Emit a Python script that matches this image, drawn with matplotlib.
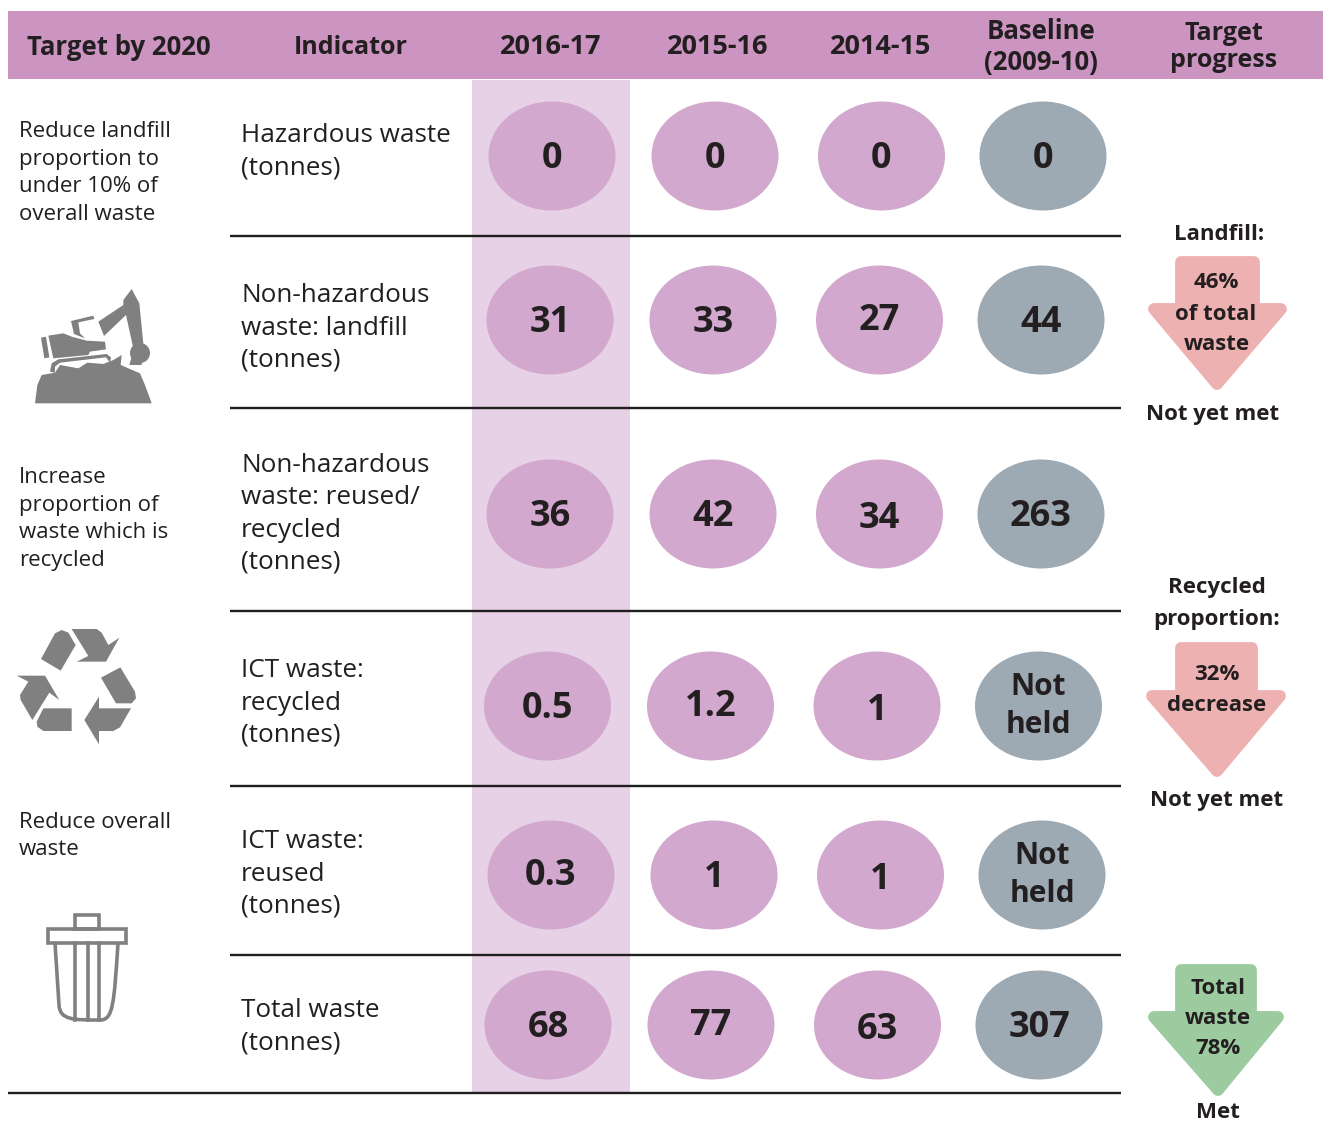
import matplotlib
matplotlib.use('Agg')
import matplotlib.pyplot as plt
from matplotlib.patches import Circle, Ellipse, Polygon, Rectangle, PathPatch
from matplotlib.path import Path

plt.rcParams['font.family'] = ['Open Sans', 'DejaVu Sans']

#data
headers = ['2016-17', '2015-16', '2014-15', 'Baseline\n(2009-10)']
indicators = ['Hazardous waste\n(tonnes)',
              'Non-hazardous\nwaste: landfill\n(tonnes)',
              'Non-hazardous\nwaste: reused/\nrecycled\n(tonnes)',
              'ICT waste:\nrecycled\n(tonnes)',
              'ICT waste:\nreused\n(tonnes)',
              'Total waste\n(tonnes)']
values_2016 = ['0', '31', '36', '0.5', '0.3', '68']
values_2015 = ['0', '33', '42', '1.2', '1', '77']
values_2014 = ['0', '27', '34', '1', '1', '63']
values_base = ['0', '44', '263', 'Not\nheld', 'Not\nheld', '307']
targets = ['Reduce landfill\nproportion to\nunder 10% of\noverall waste',
           'Increase\nproportion of\nwaste which is\nrecycled',
           'Reduce overall\nwaste']

#layout in image pixels
W, H = 1323, 1122
col_x = [552, 715, 881.5, 1043]
row_y = [156, 320, 514, 706, 875, 1025]
row_shift = [0, -2, -2, -4.5, -1, -4]
line_y = [236, 408, 611, 786, 955, 1093]
text_dy = [[0, 0, 0, 0], [0, 0, -2, 0], [0, 0, 2, 0], [0, -2, 2, 0], [-2, 0, 2, 0], [0, -2, 2, 0]]
ind_y = [151.5, 328, 514, 703, 874, 1027]
target_y = [173, 519, 836]

PINK = '#D2A8CE'
GREY = '#9DA9B3'
HEAD = '#CB94C1'
BAND = '#E6D1E6'
DARK = '#231F20'
ICON = '#808080'

fig = plt.figure(figsize=(W/100, H/100), dpi=100)
ax = fig.add_axes([0, 0, 1, 1])
ax.set_xlim(0, W)
ax.set_ylim(H, 0)
ax.axis('off')

#header and highlighted column
ax.add_patch(Rectangle((8, 11), W-8, 68, color=HEAD, lw=0, zorder=1))
ax.add_patch(Rectangle((472, 80), 158, 1013, color=BAND, lw=0, zorder=1))

head_kw = dict(ha='center', va='center', fontweight='bold', color=DARK, linespacing=1.15, zorder=5)
ax.text(119, 47, 'Target by 2020', fontsize=18.5, **head_kw)
ax.text(351, 47, 'Indicator', fontsize=18, **head_kw)
for x, h, s in zip([551, 718, 881, 1041], headers, [19.5, 19.5, 19.5, 18.5]):
    ax.text(x, 47, h, fontsize=s, **head_kw)
ax.text(1224, 47, 'Target\nprogress', fontsize=18, **head_kw)

#row lines
for i, y in enumerate(line_y):
    ax.plot([8 if i == 5 else 230, 1121], [y, y], color='#1f1f1f', lw=1.7, zorder=2, solid_capstyle='butt')

#left column
for t, y in zip(targets, target_y):
    ax.text(19, y, t, ha='left', va='center', fontsize=16, color=DARK, linespacing=1.43, zorder=5)

#indicators
for t, y in zip(indicators, ind_y):
    ax.text(241, y, t, ha='left', va='center', fontsize=18.8, color=DARK, linespacing=1.37, zorder=5)

#ellipses
columns = [values_2016, values_2015, values_2014, values_base]
for c, vals in enumerate(columns):
    color = GREY if c == 3 else PINK
    for r, v in enumerate(vals):
        x = col_x[c] + row_shift[r]
        y = row_y[r]
        ax.add_patch(Ellipse((x, y), 127, 109, color=color, lw=0, zorder=3))
        if '\n' in v:
            ax.text(x, y + text_dy[r][c], v, ha='center', va='center', fontsize=21.5, fontweight='bold',
                    color=DARK, linespacing=1.36, zorder=5)
        else:
            ax.text(x, y + text_dy[r][c] + 3, v, ha='center', va='center', fontsize=26, fontweight='bold',
                    color=DARK, zorder=5)

#target progress arrows
def arrow(x0, x1, hx0, hx1, top, shoulder, tipx, tip, color):
    r = 6
    pts = [(x0+r, top+r), (x1-r, top+r), (x1-r, shoulder+r), (hx1-r, shoulder+r), (tipx, tip-r),
           (hx0+r, shoulder+r), (x0+r, shoulder+r)]
    ax.add_patch(Polygon(pts, closed=True, facecolor=color, edgecolor=color, lw=8.5, joinstyle='round', zorder=3))

arrow(1175, 1260, 1148, 1287, 256, 303, 1217, 390, '#EEB1B1')
arrow(1175, 1258, 1146, 1286, 642, 690, 1217, 777, '#EEB1B1')
arrow(1175, 1257, 1148, 1284, 964, 1011, 1218, 1096, '#9DCBA0')

small_kw = dict(ha='center', va='center', fontsize=16, fontweight='bold', color=DARK, zorder=5)
ax.text(1219, 234, 'Landfill:', **small_kw)
ax.text(1216, 282, '46%', **small_kw)
ax.text(1216, 314, 'of total', **small_kw)
ax.text(1217, 344, 'waste', **small_kw)
ax.text(1213, 414, 'Not yet met', **small_kw)
ax.text(1217, 587, 'Recycled', **small_kw)
ax.text(1217, 619, 'proportion:', **small_kw)
ax.text(1217, 674, '32%', **small_kw)
ax.text(1217, 705, 'decrease', **small_kw)
ax.text(1217, 800, 'Not yet met', **small_kw)
ax.text(1218, 988, 'Total', **small_kw)
ax.text(1218, 1018, 'waste', **small_kw)
ax.text(1218, 1049, '78%', **small_kw)
ax.text(1218, 1113, 'Met', **small_kw)

#icons, outlines
def shape(pts, x0, y0):
    ax.add_patch(Polygon([(x0 + a/3, y0 + b/3) for a, b in pts], closed=True, color=ICON, lw=0, zorder=3))

#excavator
ex = [[(105, 400), (112, 345), (125, 315), (165, 308), (180, 285), (235, 295), (262, 278), (310, 282), (340, 270),
       (365, 255), (362, 285), (420, 310), (435, 345), (455, 400)],
      [(123, 203), (138, 200), (148, 262), (133, 265)],
      [(145, 197), (190, 190), (215, 200), (260, 212), (315, 215), (318, 238), (270, 245), (265, 255), (160, 265)],
      [(213, 153), (280, 137), (283, 147), (235, 157), (240, 190), (255, 205), (222, 192)],
      [(295, 155), (370, 105), (370, 90), (395, 57), (418, 100), (430, 220), (400, 235), (378, 135), (312, 198)],
      [(402, 235), (430, 220), (425, 285), (388, 285)],
      [(150, 305), (155, 280), (175, 268), (320, 252), (333, 262), (330, 278), (318, 262), (180, 278), (165, 290), (165, 308)]]
for p in ex:
    shape(p, 0, 270)
ax.add_patch(Circle((140, 353), 10, color=ICON, lw=0, zorder=3))

#recycling sign
rec = [[(123, 147), (165, 70), (185, 60), (205, 68), (227, 105), (182, 182)],
       [(215, 57), (290, 57), (305, 68), (325, 105), (358, 83), (318, 155), (230, 155), (265, 138)],
       [(303, 203), (361, 172), (405, 245), (408, 265), (395, 280), (348, 280)],
       [(393, 295), (360, 352), (340, 363), (297, 363), (297, 403), (253, 330), (297, 260), (297, 295)],
       [(215, 295), (215, 363), (130, 363), (112, 350), (110, 335), (130, 295)],
       [(97, 330), (62, 270), (60, 255), (85, 215), (50, 197), (135, 197), (178, 270), (148, 248)]]
for p in rec:
    shape(p, 0, 610)

#bin
bin_kw = dict(fill=False, edgecolor=ICON, lw=2.6, zorder=3)
ax.add_patch(Rectangle((74.5, 915), 24, 14, **bin_kw))
ax.add_patch(Rectangle((47.5, 929), 78, 14, **bin_kw))
body = Path([(55, 943), (59, 1005), (60, 1020), (73, 1020), (100, 1020), (113, 1020), (114, 1005), (118, 943)],
            [Path.MOVETO, Path.LINETO, Path.CURVE4, Path.CURVE4, Path.LINETO, Path.CURVE4, Path.CURVE4, Path.LINETO])
ax.add_patch(PathPatch(body, **bin_kw))
for x in [74.5, 87.5, 98.5]:
    ax.plot([x, x], [943, 1020], color=ICON, lw=2.6, zorder=3)

fig.savefig('out.png', dpi=100)
